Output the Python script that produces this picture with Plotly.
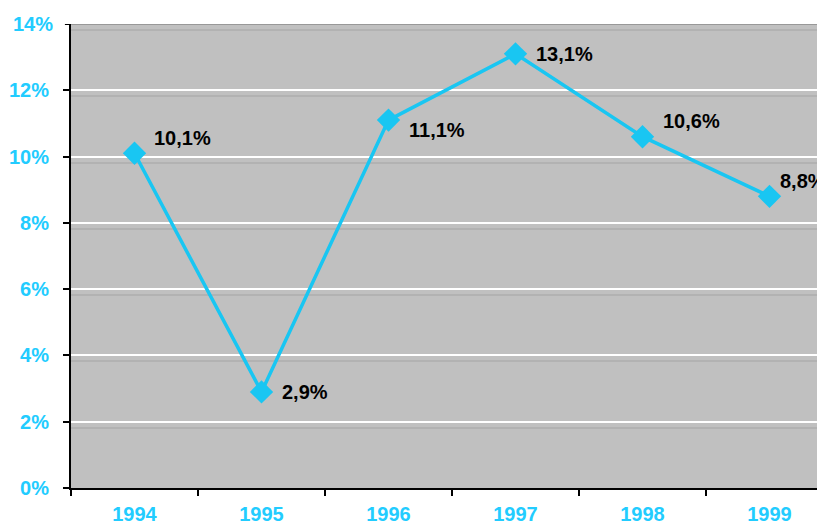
import plotly.graph_objects as go

years = ["1994", "1995", "1996", "1997", "1998", "1999"]
growth = [10.1, 2.9, 11.1, 13.1, 10.6, 8.8]
y_ticks = [0, 2, 4, 6, 8, 10, 12, 14]
y_tick_labels = [f"{t}%" for t in y_ticks]

# label offsets in pixels (style only)
label_shift = [(17, 15), (18, 0), (18, -10), (18, 0), (18, 16), (8, 15)]

CYAN = "#19C6F2"
TICK_CYAN = "#22CCFF"
FONT = "Liberation Sans, Arial, sans-serif"

fig = go.Figure()
fig.add_trace(go.Scatter(
    x=years, y=growth, mode="lines+markers",
    line=dict(color=CYAN, width=3.5),
    marker=dict(symbol="diamond", size=18, color=CYAN),
    hoverinfo="skip", showlegend=False,
))

for i, (v, (dx, dy)) in enumerate(zip(growth, label_shift)):
    fig.add_annotation(
        x=i, y=v, xref="x", yref="y",
        text=f"{v:.1f}".replace(".", ",") + "%",
        showarrow=False, xanchor="left", yanchor="middle",
        xshift=dx, yshift=dy,
        font=dict(family=FONT, size=20, color="black", weight="bold"),
    )

# darker top border of the plot area
fig.add_shape(type="line", xref="paper", yref="y", x0=0, x1=1,
              y0=y_ticks[-1], y1=y_ticks[-1],
              line=dict(color="#989898", width=2), layer="below")

# page body adds an 8px offset; margins compensate so the plot sits where the reference has it
fig.update_layout(
    width=825, height=526,
    margin=dict(l=63, r=0, t=16, b=46),
    paper_bgcolor="white", plot_bgcolor="#C0C0C0",
    font=dict(family=FONT),
)
fig.update_xaxes(
    type="category", range=[-0.5, 5.5], automargin=False,
    showgrid=False, showline=True, linecolor="black", linewidth=2,
    ticks="outside", ticklen=6, tickcolor="black", tickwidth=2,
    tickson="boundaries", ticklabelstandoff=7,
    tickfont=dict(family=FONT, size=20, color=TICK_CYAN, weight="bold"),
)
fig.update_yaxes(
    range=[0, 14], tickvals=y_ticks[:-1], ticktext=y_tick_labels[:-1], automargin=False,
    showgrid=True, gridcolor="white", gridwidth=2,
    minor=dict(tickvals=[t - 0.18 for t in y_ticks[1:]], showgrid=True,
               gridcolor="#B2B2B2", gridwidth=2, ticks=""),
    showline=True, linecolor="black", linewidth=2,
    ticks="outside", ticklen=6, tickcolor="black", tickwidth=2,
    ticklabelstandoff=10, zeroline=False,
    tickfont=dict(family=FONT, size=20, color=TICK_CYAN, weight="bold"),
)
# top tick label and tick (grid there is drawn as the darker border)
fig.add_annotation(xref="paper", yref="y", x=0, y=y_ticks[-1], text=y_tick_labels[-1],
                   showarrow=False, xanchor="right", yanchor="middle", xshift=-16,
                   font=dict(family=FONT, size=20, color=TICK_CYAN, weight="bold"))
fig.add_shape(type="line", xref="paper", yref="y", x0=-0.008, x1=0,
              y0=y_ticks[-1], y1=y_ticks[-1], line=dict(color="black", width=2))

fig.write_html("out.html")
